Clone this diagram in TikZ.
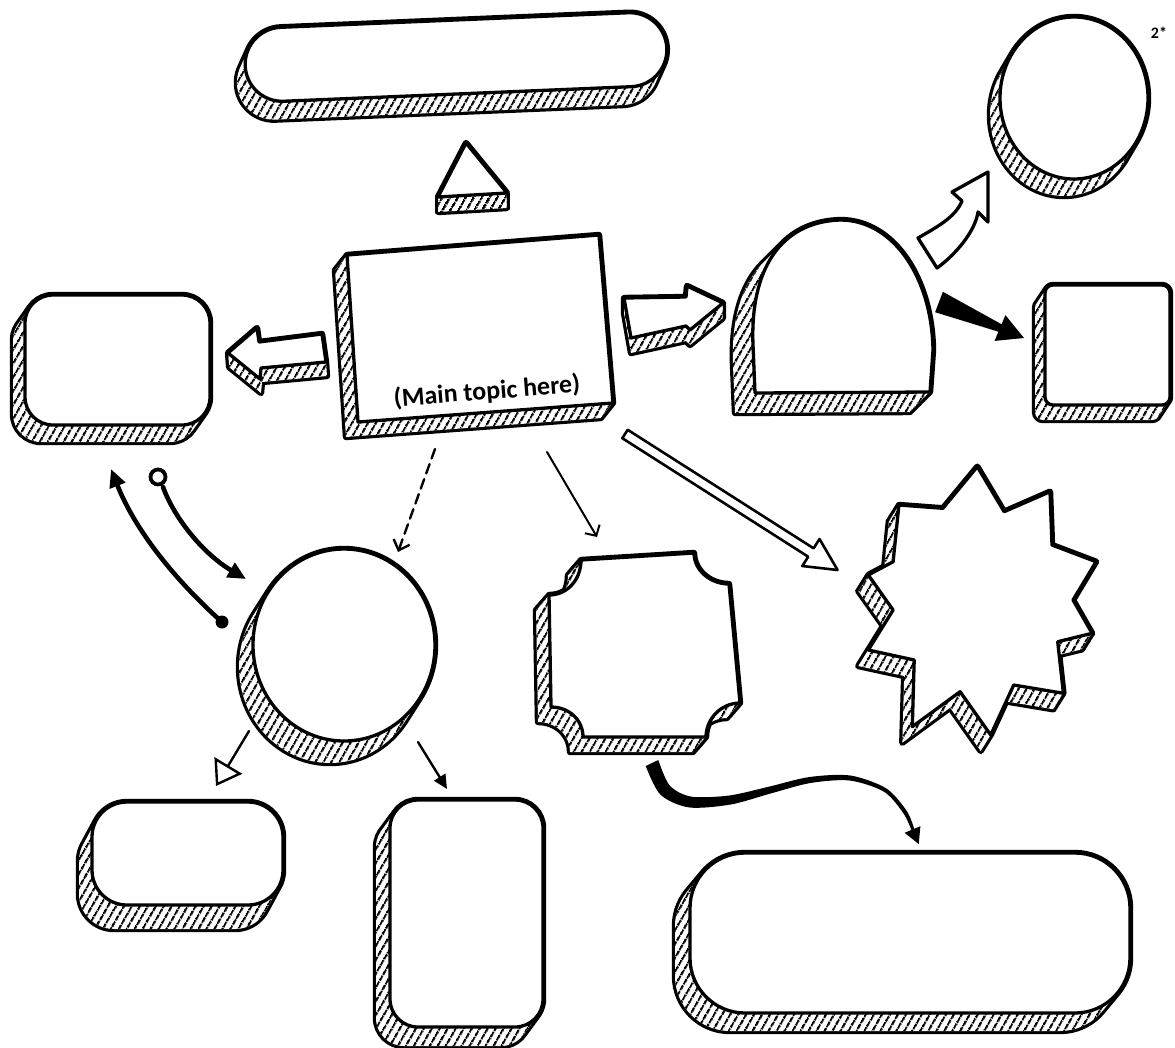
\documentclass[tikz,border=0pt]{standalone}
\usepackage{fontspec}
\setmainfont{Carlito}
\usetikzlibrary{patterns.meta,arrows.meta}
\tikzset{
  outline/.style={draw=black,line width=3.3pt,line join=round,line cap=round},
  face/.style={outline,fill=white},
  rim/.style={draw=black,line width=6.4pt,line join=round},
  hatchfill/.style={pattern={Lines[angle=60,distance=6.5pt,line width=2.3pt]}},
  link/.style={draw=black,line width=2.4pt,line cap=round},
  thick link/.style={draw=black,line width=4.6pt,line cap=round},
  label/.style={font=\bfseries\fontsize{26}{30}\selectfont,inner sep=0pt},
  note/.style={font=\bfseries\fontsize{16}{18}\selectfont,inner sep=0pt},
}
% #1 dx, #2 dy (depth offset), #3 path options, #4 path
\newcommand\solidshape[4]{%
  \path[rim,#3] foreach \k in {0,...,14} { {[shift={({\k*(#1)/14},{\k*(#2)/14})}] #4} };
  \path[fill=white,#3] foreach \k in {0,...,14} { {[shift={({\k*(#1)/14},{\k*(#2)/14})}] #4} };
  \path[hatchfill,#3] foreach \k in {0,...,14} { {[shift={({\k*(#1)/14},{\k*(#2)/14})}] #4} };
  \path[face,#3] #4;}
\begin{document}
\begin{tikzpicture}[x=1pt,y=-1pt]
\path[fill=white] (0,0) rectangle (1175,1047);
\useasboundingbox (0,0) rectangle (1175,1047);

% ---------- top pill and small triangle
\begin{scope}[shift={(456,57)},rotate=2.4]
\solidshape{-9}{18}{rounded corners=37pt}{(-211,-37) rectangle (211,37)}
\end{scope}
\solidshape{0}{15}{}{(466,143) -- (507,193) -- (438,197) -- cycle}

% ---------- main box
\solidshape{-12}{15}{}{(347,255) -- (599,235) -- (613,403) -- (358,422) -- cycle}
\node[label,rotate=4.5] (main) at (487,392) {(Main topic here)};

% ---------- left block arrow and left box
\solidshape{1}{14}{}{(228,353) -- (257,328) -- (259,342) -- (322,334) -- (326,362) -- (261,368) -- (260,379) -- cycle}
\solidshape{-12}{17}{rounded corners=28pt}{(25,295) rectangle (210,425)}

% ---------- right block arrow, dome, square
\solidshape{0}{15}{}{(624,298) -- (686,297) -- (687,286) -- (723,303) -- (690,330) -- (686,326) -- (631,338) -- cycle}
\solidshape{-20}{20}{}{(755,393) -- (753,345) .. controls (750,270) and (780,222) .. (840,220) .. controls (895,220) and (932,280) .. (933,350) -- (930,392) -- cycle}
\solidshape{-10}{15}{rounded corners=8pt}{(1045,285) rectangle (1170,405)}

% ---------- top right circle
\solidshape{-10}{17}{}{(1074,98) ellipse [x radius=74pt, y radius=81pt]}
\node[note] (mark) at (1159,33) {2*};

% curved hollow arrow (dome -> circle)
\path[face] (918,238) .. controls (935,228) and (955,218) .. (962,201) -- (952,192) -- (988,172) -- (988,222) -- (978,212) .. controls (975,232) and (955,255) .. (937,268) -- cycle;

% black arrow (dome -> square)
\fill[black,line join=round] (942.9,291.8) -- (1001.6,324.3) -- (1005.4,315.1) -- (1024,338) -- (994.6,340.9) -- (998.4,331.7) -- (935.1,312.2) -- cycle;

% ---------- bottom left circle
\solidshape{-14}{22}{}{(344,645) ellipse [x radius=91pt, y radius=96pt]}

% ---------- connectors
\coordinate (dashS) at (435,449);
\coordinate (dashE) at (398,552);
\draw[link,dash pattern=on 10pt off 6pt,-{Straight Barb[length=9pt,width=17pt,line width=2.4pt]}] (dashS) -- (dashE);

\coordinate (dotS) at (222,622);
\coordinate (upE) at (111,469);
\fill (dotS) circle (6.5pt);
\draw[thick link,-{Triangle[length=18pt,width=16pt]}] (dotS) .. controls (175,580) and (135,530) .. (upE);

\coordinate (ringC) at (158,477);
\coordinate (ringS) at (163,487);
\coordinate (downE) at (246,579);
\draw[line width=3.8pt] (ringC) circle (7.5pt);
\draw[thick link,-{Triangle[length=18pt,width=16pt]}] (ringS) .. controls (175,520) and (205,555) .. (downE);

\coordinate (thinS) at (547,452);
\coordinate (thinE) at (597,537);
\draw[link,line width=2pt,-{Straight Barb[length=8pt,width=17pt,line width=2pt]}] (thinS) -- (thinE);

% long hollow arrow (main -> star)
\path[face,line width=2.6pt] (627.7,429.8) -- (813.6,548.3) -- (819.5,539) -- (837.6,570) -- (802.3,566) -- (808.2,556.7) -- (622.3,438.2) -- cycle;

\coordinate (olS) at (249,731);
\coordinate (olE) at (216,786);
\draw[link,-{Triangle[open,length=24pt,width=32pt,line width=2.4pt]}] (olS) -- (olE);
\coordinate (orS) at (418,742);
\coordinate (orE) at (447,789);
\draw[link,-{Triangle[length=14pt,width=13pt]}] (orS) -- (orE);

% ---------- notched square
\solidshape{-13}{15}{}{(581,560) -- (694,553) .. controls (694,570) and (710,584) .. (729,584) -- (740,703) .. controls (721,703) and (706,719) .. (706,737) -- (583,737) .. controls (583,720) and (569,707) .. (551,707) -- (549,595) .. controls (567,595) and (581,580) .. (581,560) -- cycle}

% ---------- star
\solidshape{-10}{16}{}{(977.3,466.7) -- (1004.1,511.7) -- (1050.0,491.7) -- (1052.0,545.0) -- (1096.0,561.7) -- (1073.0,600.0) -- (1092.1,633.3) -- (1057.7,641.7) -- (1063.4,693.3) -- (1013.7,685.0) -- (990.7,735.0) -- (960.1,691.7) -- (912.3,726.7) -- (914.2,660.0) -- (868.3,650.0) -- (893.1,610.0) -- (868.3,575.0) -- (893.1,561.7) -- (898.9,505.0) -- (942.9,508.3) -- cycle}

% ---------- bottom boxes
\solidshape{-13}{24}{rounded corners=35pt}{(92,802) rectangle (283,905)}
\solidshape{-14}{19}{rounded corners=28pt}{(390,800) rectangle (543,1027)}
\solidshape{-15}{18}{rounded corners=55pt}{(690,853) rectangle (1130,1013)}

% ---------- curved tapered arrow (notched square -> bottom pill)
\fill[black] plot[smooth] coordinates {(658.3,760.0) (669.6,785.4) (691.1,796.6) (729.3,795.5) (769.1,786.6) (809.6,777.0) (850.4,775.5) (886.1,788.3) (906.7,810.9) (914.4,829.4)}
  -- plot[smooth] coordinates {(911.6,830.6) (903.3,813.1) (883.9,791.7) (849.6,780.5) (810.4,783.0) (770.9,793.4) (730.7,804.5) (688.9,807.4) (660.4,794.6) (645.7,766.0)} -- cycle;
\coordinate (cvE) at (918.7,844);
\fill[black] (920.4,826.2) -- (cvE) -- (904.6,832.8) -- cycle;
\end{tikzpicture}
\end{document}
